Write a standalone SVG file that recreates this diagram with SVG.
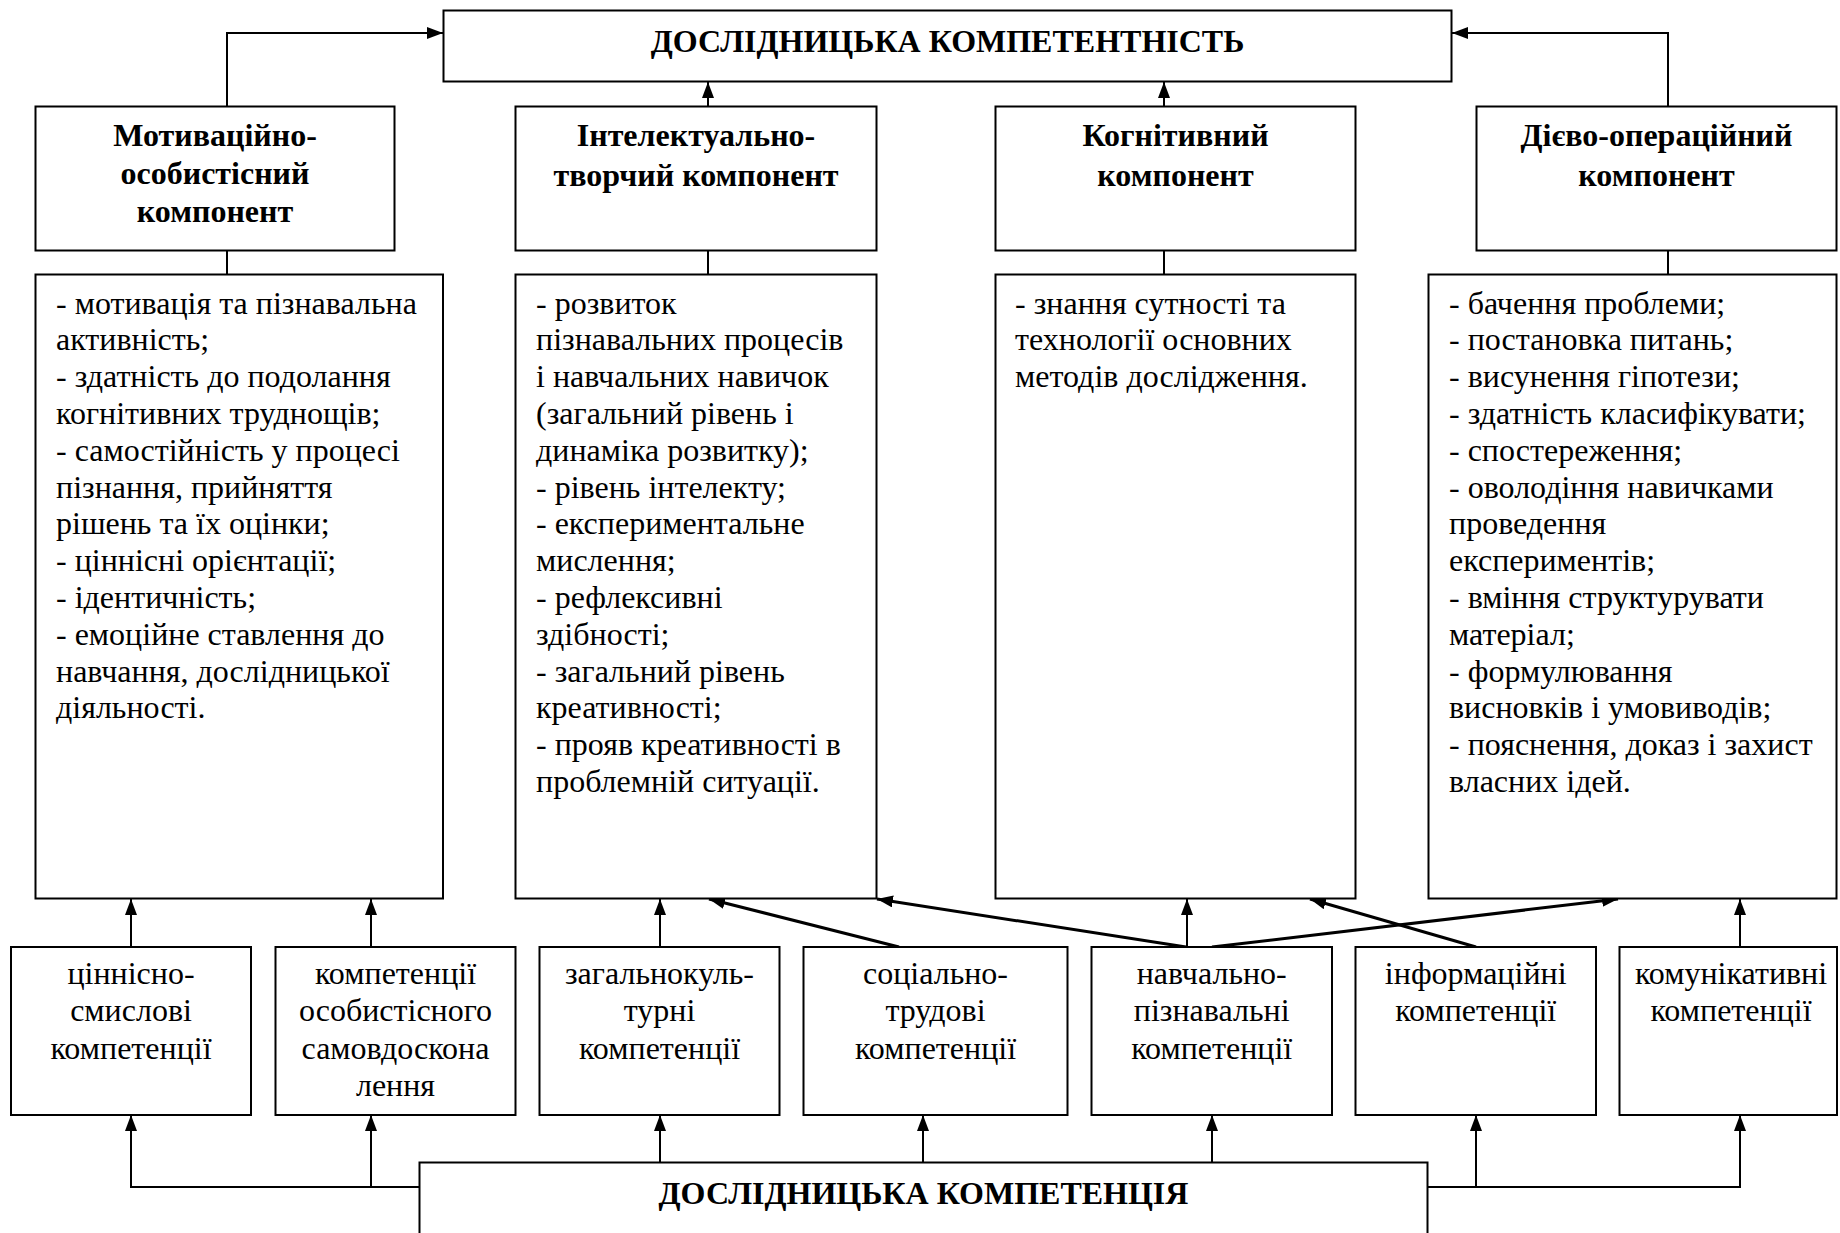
<svg xmlns="http://www.w3.org/2000/svg" width="1840" height="1233" viewBox="0 0 1840 1233">
<defs>
<marker id="ah" markerUnits="userSpaceOnUse" markerWidth="16" markerHeight="12" refX="16" refY="6" orient="auto"><path d="M0,0 L16,6 L0,12 z" fill="#000"/></marker>
<style>
.box{fill:#fff;stroke:#000;stroke-width:2}
.t{font-family:"Liberation Serif","Times New Roman",serif;font-size:32px;fill:#000}
.b{font-weight:bold}
.c{text-anchor:middle}
.ln{fill:none;stroke:#000;stroke-width:2}
.ar{fill:none;stroke:#000;stroke-width:2;marker-end:url(#ah)}
.ad{fill:none;stroke:#000;stroke-width:3;marker-end:url(#ah)}
</style>
</defs>
<rect width="1840" height="1233" fill="#fff"/>
<g id="connectors">
<polyline class="ar" points="227,106 227,33 443,33"/>
<line class="ar" x1="708" y1="106" x2="708" y2="82"/>
<line class="ar" x1="1164" y1="106" x2="1164" y2="82"/>
<polyline class="ar" points="1668,106 1668,33 1452,33"/>
<line class="ln" x1="227" y1="250" x2="227" y2="274"/>
<line class="ln" x1="708" y1="250" x2="708" y2="274"/>
<line class="ln" x1="1164" y1="250" x2="1164" y2="274"/>
<line class="ln" x1="1668" y1="250" x2="1668" y2="274"/>
<line class="ar" x1="131" y1="947" x2="131" y2="899"/>
<line class="ar" x1="371" y1="947" x2="371" y2="899"/>
<line class="ar" x1="660" y1="947" x2="660" y2="899"/>
<line class="ad" x1="899" y1="947" x2="709" y2="899"/>
<line class="ar" x1="1187" y1="947" x2="1187" y2="899"/>
<line class="ad" x1="1186" y1="947" x2="877" y2="899"/>
<line class="ad" x1="1212" y1="947" x2="1618" y2="899"/>
<line class="ad" x1="1476" y1="947" x2="1310" y2="899"/>
<line class="ar" x1="1740" y1="947" x2="1740" y2="899"/>
<polyline class="ar" points="419,1187 131,1187 131,1115"/>
<line class="ar" x1="371" y1="1187" x2="371" y2="1115"/>
<line class="ar" x1="660" y1="1162" x2="660" y2="1115"/>
<line class="ar" x1="923" y1="1162" x2="923" y2="1115"/>
<line class="ar" x1="1212" y1="1162" x2="1212" y2="1115"/>
<polyline class="ar" points="1428,1187 1740,1187 1740,1115"/>
<line class="ar" x1="1476" y1="1187" x2="1476" y2="1115"/>
</g>
<g id="top">
<rect class="box" x="443.5" y="10.5" width="1008" height="71"/>
<text class="t b c" x="947.5" y="52">ДОСЛІДНИЦЬКА КОМПЕТЕНТНІСТЬ</text>
</g>
<g id="h1">
<rect class="box" x="35.5" y="106.5" width="359" height="144"/>
<text class="t b c" x="215" y="146">Мотиваційно-</text>
<text class="t b c" x="215" y="184">особистісний</text>
<text class="t b c" x="215" y="222">компонент</text>
</g>
<g id="h2">
<rect class="box" x="515.5" y="106.5" width="361" height="144"/>
<text class="t b c" x="696" y="146">Інтелектуально-</text>
<text class="t b c" x="696" y="186">творчий компонент</text>
</g>
<g id="h3">
<rect class="box" x="995.5" y="106.5" width="360" height="144"/>
<text class="t b c" x="1175.5" y="146">Когнітивний</text>
<text class="t b c" x="1175.5" y="186">компонент</text>
</g>
<g id="h4">
<rect class="box" x="1476.5" y="106.5" width="360" height="144"/>
<text class="t b c" x="1656.5" y="146">Дієво-операційний</text>
<text class="t b c" x="1656.5" y="186">компонент</text>
</g>
<g id="d1">
<rect class="box" x="35.5" y="274.5" width="407.5" height="624"/>
<text class="t" x="56" y="313.5">
<tspan x="56">- мотивація та пізнавальна</tspan>
<tspan x="56" dy="36.8">активність;</tspan>
<tspan x="56" dy="36.8">- здатність до подолання</tspan>
<tspan x="56" dy="36.8">когнітивних труднощів;</tspan>
<tspan x="56" dy="36.8">- самостійність у процесі</tspan>
<tspan x="56" dy="36.8">пізнання, прийняття</tspan>
<tspan x="56" dy="36.8">рішень та їх оцінки;</tspan>
<tspan x="56" dy="36.8">- ціннісні орієнтації;</tspan>
<tspan x="56" dy="36.8">- ідентичність;</tspan>
<tspan x="56" dy="36.8">- емоційне ставлення до</tspan>
<tspan x="56" dy="36.8">навчання, дослідницької</tspan>
<tspan x="56" dy="36.8">діяльності.</tspan>
</text>
</g>
<g id="d2">
<rect class="box" x="515.5" y="274.5" width="361" height="624"/>
<text class="t" x="536" y="313.5">
<tspan x="536">- розвиток</tspan>
<tspan x="536" dy="36.8">пізнавальних процесів</tspan>
<tspan x="536" dy="36.8">і навчальних навичок</tspan>
<tspan x="536" dy="36.8">(загальний рівень і</tspan>
<tspan x="536" dy="36.8">динаміка розвитку);</tspan>
<tspan x="536" dy="36.8">- рівень інтелекту;</tspan>
<tspan x="536" dy="36.8">- експериментальне</tspan>
<tspan x="536" dy="36.8">мислення;</tspan>
<tspan x="536" dy="36.8">- рефлексивні</tspan>
<tspan x="536" dy="36.8">здібності;</tspan>
<tspan x="536" dy="36.8">- загальний рівень</tspan>
<tspan x="536" dy="36.8">креативності;</tspan>
<tspan x="536" dy="36.8">- прояв креативності в</tspan>
<tspan x="536" dy="36.8">проблемній ситуації.</tspan>
</text>
</g>
<g id="d3">
<rect class="box" x="995.5" y="274.5" width="360" height="624"/>
<text class="t" x="1015" y="313.5">
<tspan x="1015">- знання сутності та</tspan>
<tspan x="1015" dy="36.8">технології основних</tspan>
<tspan x="1015" dy="36.8">методів дослідження.</tspan>
</text>
</g>
<g id="d4">
<rect class="box" x="1428.5" y="274.5" width="408" height="624"/>
<text class="t" x="1449" y="313.5">
<tspan x="1449">- бачення проблеми;</tspan>
<tspan x="1449" dy="36.8">- постановка питань;</tspan>
<tspan x="1449" dy="36.8">- висунення гіпотези;</tspan>
<tspan x="1449" dy="36.8">- здатність класифікувати;</tspan>
<tspan x="1449" dy="36.8">- спостереження;</tspan>
<tspan x="1449" dy="36.8">- оволодіння навичками</tspan>
<tspan x="1449" dy="36.8">проведення</tspan>
<tspan x="1449" dy="36.8">експериментів;</tspan>
<tspan x="1449" dy="36.8">- вміння структурувати</tspan>
<tspan x="1449" dy="36.8">матеріал;</tspan>
<tspan x="1449" dy="36.8">- формулювання</tspan>
<tspan x="1449" dy="36.8">висновків і умовиводів;</tspan>
<tspan x="1449" dy="36.8">- пояснення, доказ і захист</tspan>
<tspan x="1449" dy="36.8">власних ідей.</tspan>
</text>
</g>
<g id="s1">
<rect class="box" x="11" y="947" width="240" height="168"/>
<text class="t c" x="131" y="984"><tspan x="131">ціннісно-</tspan><tspan x="131" dy="37.3">смислові</tspan><tspan x="131" dy="37.3">компетенції</tspan></text>
</g>
<g id="s2">
<rect class="box" x="275.5" y="947" width="240" height="168"/>
<text class="t c" x="395.5" y="984"><tspan x="395.5">компетенції</tspan><tspan x="395.5" dy="37.3">особистісного</tspan><tspan x="395.5" dy="37.3">самовдоскона</tspan><tspan x="395.5" dy="37.3">лення</tspan></text>
</g>
<g id="s3">
<rect class="box" x="539.5" y="947" width="240" height="168"/>
<text class="t c" x="659.5" y="984"><tspan x="659.5">загальнокуль-</tspan><tspan x="659.5" dy="37.3">турні</tspan><tspan x="659.5" dy="37.3">компетенції</tspan></text>
</g>
<g id="s4">
<rect class="box" x="803.5" y="947" width="264" height="168"/>
<text class="t c" x="935.5" y="984"><tspan x="935.5">соціально-</tspan><tspan x="935.5" dy="37.3">трудові</tspan><tspan x="935.5" dy="37.3">компетенції</tspan></text>
</g>
<g id="s5">
<rect class="box" x="1091.5" y="947" width="240.5" height="168"/>
<text class="t c" x="1211.7" y="984"><tspan x="1211.7">навчально-</tspan><tspan x="1211.7" dy="37.3">пізнавальні</tspan><tspan x="1211.7" dy="37.3">компетенції</tspan></text>
</g>
<g id="s6">
<rect class="box" x="1355.5" y="947" width="240.5" height="168"/>
<text class="t c" x="1475.7" y="984"><tspan x="1475.7">інформаційні</tspan><tspan x="1475.7" dy="37.3">компетенції</tspan></text>
</g>
<g id="s7">
<rect class="box" x="1619.5" y="947" width="217.5" height="168"/>
<text class="t c" x="1731" y="984"><tspan x="1731">комунікативні</tspan><tspan x="1731" dy="37.3">компетенції</tspan></text>
</g>
<g id="bottom">
<rect class="box" x="419.5" y="1162.5" width="1008" height="100"/>
<text class="t b c" x="923.5" y="1204">ДОСЛІДНИЦЬКА КОМПЕТЕНЦІЯ</text>
</g>
</svg>
